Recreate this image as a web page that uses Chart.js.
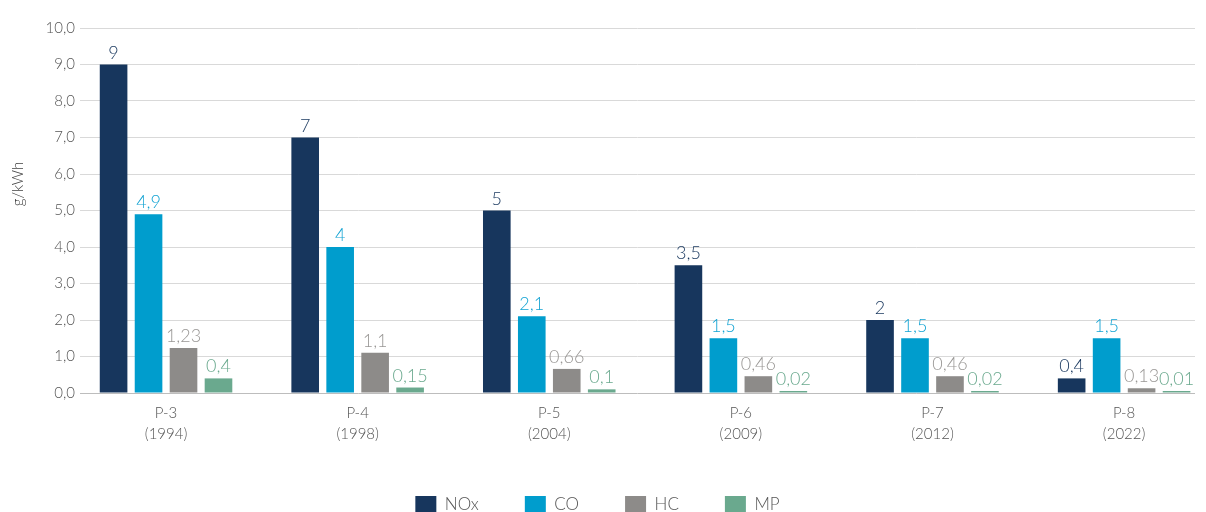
<!DOCTYPE html>
<html>
<head>
<meta charset="utf-8">
<script src="https://cdn.jsdelivr.net/npm/chart.js@4/dist/chart.umd.min.js"></script>
<style>
  html, body { margin: 0; padding: 0; background: #fff; }
  #wrap { width: 1206px; height: 512px; }
</style>
</head>
<body>
<div id="wrap"><canvas id="emissions" width="1206" height="512"></canvas></div>
<script>
// Stage limits per pollutant (g/kWh)
const stages = ["P-3", "P-4", "P-5", "P-6", "P-7", "P-8"];
const years = ["1994", "1998", "2004", "2009", "2012", "2022"];
const nox = [9, 7, 5, 3.5, 2, 0.4];
const co = [4.9, 4, 2.1, 1.5, 1.5, 1.5];
const hc = [1.23, 1.1, 0.66, 0.46, 0.46, 0.13];
const mp = [0.4, 0.15, 0.1, 0.02, 0.02, 0.01];
const yTicks = [0, 1, 2, 3, 4, 5, 6, 7, 8, 9, 10];

const FONT = "Lato";
const comma = v => String(v).replace(".", ",");
const points = arr => arr.map((v, i) => ({ x: i, y: v }));

// value labels above each bar, same colour as the series
const barLabels = {
  id: "barLabels",
  afterDatasetsDraw(chart) {
    const ctx = chart.ctx;
    ctx.save();
    ctx.font = "300 18px " + FONT;
    ctx.textAlign = "center";
    ctx.textBaseline = "alphabetic";
    chart.data.datasets.forEach((ds, di) => {
      const meta = chart.getDatasetMeta(di);
      ctx.fillStyle = ds.labelColor;
      meta.data.forEach((bar, i) => {
        ctx.fillText(comma(ds.data[i].y), bar.x, bar.y - 6);
      });
    });
    ctx.restore();
  }
};

// rotated unit label on the left
const unitLabel = {
  id: "unitLabel",
  afterDraw(chart) {
    const ctx = chart.ctx;
    ctx.save();
    ctx.translate(18, 184);
    ctx.rotate(-Math.PI / 2);
    ctx.font = "300 15px " + FONT;
    ctx.fillStyle = "#444";
    ctx.textAlign = "center";
    ctx.textBaseline = "middle";
    ctx.fillText("g/kWh", 0, 0);
    ctx.restore();
  }
};

new Chart(document.getElementById("emissions"), {
  type: "bar",
  data: {
    datasets: [
      { label: "NOx", data: points(nox), backgroundColor: "#17365d", labelColor: "#17365d" },
      { label: "CO", data: points(co), backgroundColor: "#009dcd", labelColor: "#13a3d3" },
      { label: "HC", data: points(hc), backgroundColor: "#8d8b89", labelColor: "#999795" },
      { label: "MP", data: points(mp), backgroundColor: "#6aa98e", labelColor: "#6aa98e", minBarLength: 2 }
    ]
  },
  options: {
    responsive: false,
    animation: false,
    categoryPercentage: 0.73,
    barPercentage: 0.79,
    layout: { padding: { top: 28, right: 11, left: 0, bottom: -11 } },
    scales: {
      x: {
        type: "linear",
        offset: false,
        min: -0.449,
        max: 5.37,
        grid: { display: false, offset: false },
        border: { display: false },
        afterBuildTicks: s => { s.ticks = stages.map((_, i) => ({ value: i })); },
        afterFit: s => { s.height = 57; },
        ticks: {
          autoSkip: false,
          maxRotation: 0,
          padding: 2,
          color: "#555",
          font: { family: FONT, size: 15, weight: 300, lineHeight: 1.4 },
          callback: v => [stages[v], "(" + years[v] + ")"]
        }
      },
      y: {
        min: 0,
        max: 10,
        afterBuildTicks: s => { s.ticks = yTicks.map(v => ({ value: v })); },
        afterFit: s => { s.width = 80; },
        border: { display: false },
        grid: {
          drawTicks: false,
          color: ctx => ctx.tick && ctx.tick.value === 0 ? "#bdbdbd" : "#d9d9d9"
        },
        ticks: {
          padding: 5,
          color: "#555",
          font: { family: FONT, size: 15, weight: 300 },
          callback: v => v.toFixed(1).replace(".", ",")
        }
      }
    },
    plugins: {
      legend: {
        position: "bottom",
        labels: {
          boxWidth: 21,
          boxHeight: 17,
          padding: 46,
          color: "#555",
          font: { family: FONT, size: 17, weight: 300 }
        }
      },
      tooltip: { enabled: false }
    }
  },
  plugins: [barLabels, unitLabel]
});
</script>
</body>
</html>
